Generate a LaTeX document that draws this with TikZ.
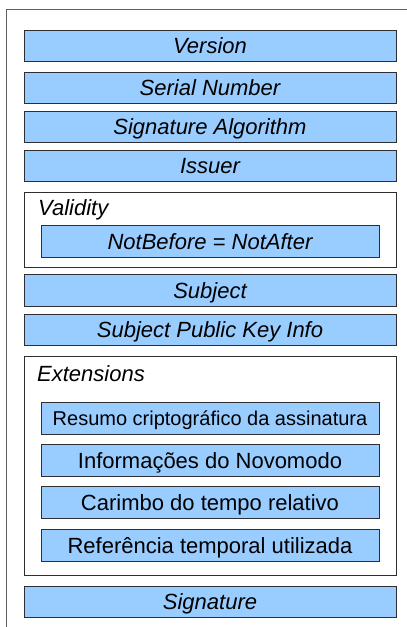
\documentclass[tikz,border=0pt]{standalone}
\usepackage{fontspec}
\setmainfont{Liberation Sans}
\usepackage{xcolor}
\usetikzlibrary{positioning}
\definecolor{fieldblue}{RGB}{153, 204, 255}
\definecolor{borderdark}{RGB}{45, 45, 50}
\definecolor{framegray}{RGB}{95, 95, 95}

\tikzset{
  field/.style={draw=borderdark, fill=fieldblue, line width=0.8pt, inner sep=0pt, minimum width=372pt, minimum height=31pt, text height=18pt, text depth=2pt, font=\fontsize{22}{26}\selectfont\itshape},
  extfield/.style={field, minimum width=338pt, minimum height=32pt, font=\fontsize{22}{26}\selectfont},
  groupbox/.style={draw=borderdark, fill=white, line width=0.8pt, inner sep=0pt, minimum width=372pt},
  grouplabel/.style={anchor=base west, inner sep=0pt, font=\fontsize{22}{26}\selectfont\itshape}
}

\begin{document}
\begin{tikzpicture}[x=1pt, y=-1pt]
        \useasboundingbox (0,0) rectangle (407,627);
        \draw[framegray, line width=1pt] (6,627) -- (6,9) -- (407,9);

        \node[field] (version) at (210,45.5) {Version};
        \node[field] (serial) at (210,87.5) {Serial Number};
        \node[field] (sigalg) at (210,126.5) {Signature Algorithm};
        \node[field] (issuer) at (210,165.5) {Issuer};

        \node[groupbox, minimum height=75pt] (validity) at (210,229.5) {};
        \node[grouplabel] (validitylabel) at (38,215) {Validity};
        \node[extfield, font=\fontsize{22}{26}\selectfont\itshape] (notbefore) at (210,241) {NotBefore = NotAfter};

        \node[field, minimum height=32pt] (subject) at (210,290) {Subject};
        \node[field] (spki) at (210,329.5) {Subject Public Key Info};

        \node[groupbox, minimum height=219pt] (extensions) at (210,465.5) {};
        \node[grouplabel] (extensionslabel) at (37,381) {Extensions};
        \node[extfield, text height=16pt, font=\fontsize{20}{24}\selectfont] (resumo) at (210,418) {Resumo criptográfico da assinatura};
        \node[extfield] (novomodo) at (210,460.5) {Informações do Novomodo};
        \node[extfield] (carimbo) at (210,502.5) {Carimbo do tempo relativo};
        \node[extfield] (referencia) at (210,545) {Referência temporal utilizada};

        \node[field] (signature) at (210,601.5) {Signature};
    \end{tikzpicture}
\end{document}
